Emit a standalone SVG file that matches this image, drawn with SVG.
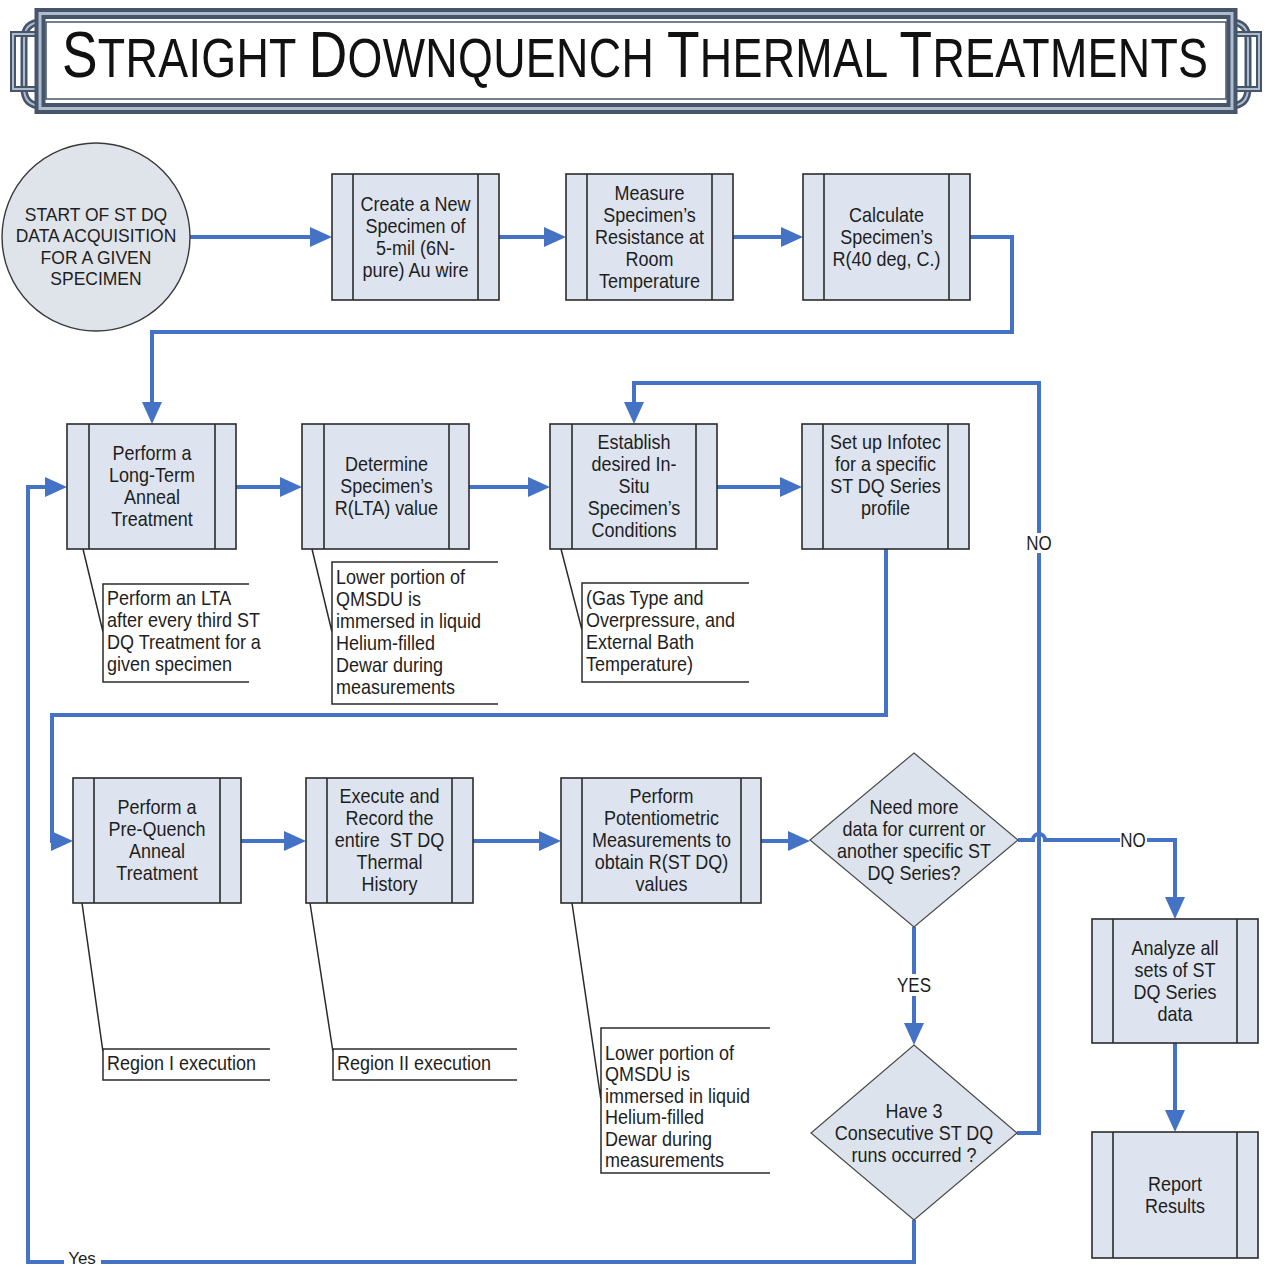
<svg xmlns="http://www.w3.org/2000/svg" width="1265" height="1268" viewBox="0 0 1265 1268">
<defs>
<style>
.box{fill:#dde4ef;stroke:#2b2b2b;stroke-width:1.6}
.div{fill:none;stroke:#2b2b2b;stroke-width:1.6}
.dia{fill:#dde3ec;stroke:#4a4a4a;stroke-width:1.2}
.start{fill:#dfe3ea;stroke:#3a3a3a;stroke-width:1.4}
.t,.a,.lb{font-family:"Liberation Sans",Arial,Helvetica,sans-serif;font-size:18px;fill:#1e1e1e;transform-box:fill-box;transform-origin:center;transform:scaleY(1.15)}
.t{text-anchor:middle}
.a{text-anchor:start}
.lb{text-anchor:middle;font-size:17px}
.sm{font-size:17.5px;transform:scaleY(1.1)}
.call{fill:none;stroke:#2b2b2b;stroke-width:1.5}
.conn{fill:none;stroke:#4472c4;stroke-width:4;stroke-linejoin:miter}
.arr{marker-end:url(#ah)}
.lbg{fill:#ffffff}
.fr-d{fill:none;stroke:#46556a}
.fr-l{fill:none;stroke:#aebdce}
</style>
<marker id="ah" markerUnits="userSpaceOnUse" markerWidth="22" markerHeight="20" viewBox="0 0 22 20" refX="16" refY="10" orient="auto">
<path d="M0,0 L22,10 L0,20 Z" fill="#4472c4"/>
</marker>
</defs>
<rect width="1265" height="1268" fill="#ffffff"/>

<!-- Title banner -->
<g id="title-banner">
<path class="fr-d" stroke-width="7" d="M42,22 Q24,22 24,40 V88 Q24,106 42,106 M1230,22 Q1248,22 1248,40 V88 Q1248,106 1230,106"/>
<path class="fr-l" stroke-width="2" d="M42,22 Q24,22 24,40 V88 Q24,106 42,106 M1230,22 Q1248,22 1248,40 V88 Q1248,106 1230,106"/>
<path class="fr-d" stroke-width="6" d="M42,34 H13 V89 H42 M1230,34 H1259 V89 H1230"/>
<path class="fr-l" stroke-width="2" d="M42,34 H13 V89 H42 M1230,34 H1259 V89 H1230"/>
<rect x="40" y="13.5" width="1192" height="95" fill="#ffffff" class="fr-d" stroke-width="11"/>
<rect x="40" y="13.5" width="1192" height="95" class="fr-l" stroke-width="3"/>
<rect x="46" y="22" width="1180" height="77" class="fr-d" stroke-width="1.5"/>
<text transform="translate(0,77) scale(1,1.23)" x="62" y="0" textLength="1146" lengthAdjust="spacing" font-family="'Liberation Sans',Arial,Helvetica,sans-serif" font-size="44.8" fill="#111111"><tspan font-size="53.3">S</tspan>TRAIGHT <tspan font-size="53.3">D</tspan>OWNQUENCH <tspan font-size="53.3">T</tspan>HERMAL <tspan font-size="53.3">T</tspan>REATMENTS</text>
</g>

<!-- Connectors -->
<g id="connectors">
<path class="conn arr" d="M190,237 H326"/>
<path class="conn arr" d="M499,237 H560"/>
<path class="conn arr" d="M733,237 H797"/>
<path class="conn arr" d="M970,237 H1012 V332 H152 V418"/>
<path class="conn arr" d="M236,487 H296"/>
<path class="conn arr" d="M469,487 H544"/>
<path class="conn arr" d="M717,487 H796"/>
<path class="conn arr" d="M886,549 V715 H52 V841 H67"/>
<path class="conn arr" d="M241,841 H300"/>
<path class="conn arr" d="M473,841 H555"/>
<path class="conn arr" d="M761,841 H804"/>
<path class="conn arr" d="M914,927 V1039"/>
<path class="conn arr" d="M1017,1133 H1039 V383 H634 V418"/>
<path class="conn arr" d="M1018,840 H1033 A6,6 0 0 1 1045,840 H1175 V913"/>
<path class="conn arr" d="M1175,1043 V1126"/>
<path class="conn arr" d="M914,1220 V1262 H28 V487 H61"/>
<rect class="lbg" x="1026" y="533" width="26" height="20"/>
<text class="lb" x="1039" y="549">NO</text>
<rect class="lbg" x="1120" y="831" width="27" height="18"/>
<text class="lb" x="1133" y="846">NO</text>
<rect class="lbg" x="895" y="974" width="38" height="22"/>
<text class="lb" x="914" y="991">YES</text>
<rect class="lbg" x="64" y="1251" width="37" height="17"/>
<text class="lb" x="82" y="1264" style="transform:none">Yes</text>
</g>

<!-- Start terminator -->
<g id="start">
<circle class="start" cx="96" cy="237" r="94"/>
<text class="t sm" x="96" y="220">START OF ST DQ</text>
<text class="t sm" x="96" y="241.5">DATA ACQUISITION</text>
<text class="t sm" x="96" y="263">FOR A GIVEN</text>
<text class="t sm" x="96" y="284.5">SPECIMEN</text>
</g>

<!-- Row 1 -->
<g id="create-specimen">
<rect class="box" x="332" y="174" width="167" height="126"/>
<path class="div" d="M353,174 V300 M478,174 V300"/>
<text class="t" x="415.5" y="210">Create a New</text>
<text class="t" x="415.5" y="232">Specimen of</text>
<text class="t" x="415.5" y="254">5-mil (6N-</text>
<text class="t" x="415.5" y="276">pure) Au wire</text>
</g>
<g id="measure-resistance">
<rect class="box" x="566" y="174" width="167" height="126"/>
<path class="div" d="M587,174 V300 M712,174 V300"/>
<text class="t" x="649.5" y="199">Measure</text>
<text class="t" x="649.5" y="221">Specimen’s</text>
<text class="t" x="649.5" y="243">Resistance at</text>
<text class="t" x="649.5" y="265">Room</text>
<text class="t" x="649.5" y="287">Temperature</text>
</g>
<g id="calculate-r40">
<rect class="box" x="803" y="174" width="167" height="126"/>
<path class="div" d="M824,174 V300 M949,174 V300"/>
<text class="t" x="886.5" y="221">Calculate</text>
<text class="t" x="886.5" y="243">Specimen’s</text>
<text class="t" x="886.5" y="265">R(40 deg, C.)</text>
</g>

<!-- Row 2 -->
<g id="long-term-anneal">
<rect class="box" x="67" y="424" width="169" height="125"/>
<path class="div" d="M89,424 V549 M215,424 V549"/>
<text class="t" x="152" y="459.5">Perform a</text>
<text class="t" x="152" y="481.5">Long-Term</text>
<text class="t" x="152" y="503.5">Anneal</text>
<text class="t" x="152" y="525.5">Treatment</text>
</g>
<g id="determine-rlta">
<rect class="box" x="302" y="424" width="167" height="125"/>
<path class="div" d="M324,424 V549 M449,424 V549"/>
<text class="t" x="386.5" y="470.5">Determine</text>
<text class="t" x="386.5" y="492.5">Specimen’s</text>
<text class="t" x="386.5" y="514.5">R(LTA) value</text>
</g>
<g id="establish-conditions">
<rect class="box" x="550" y="424" width="167" height="125"/>
<path class="div" d="M572,424 V549 M696,424 V549"/>
<text class="t" x="634" y="448.5">Establish</text>
<text class="t" x="634" y="470.5">desired In-</text>
<text class="t" x="634" y="492.5">Situ</text>
<text class="t" x="634" y="514.5">Specimen’s</text>
<text class="t" x="634" y="536.5">Conditions</text>
</g>
<g id="setup-infotec">
<rect class="box" x="802" y="424" width="167" height="125"/>
<path class="div" d="M823,424 V549 M948,424 V549"/>
<text class="t" x="885.5" y="448.5">Set up Infotec</text>
<text class="t" x="885.5" y="470.5">for a specific</text>
<text class="t" x="885.5" y="492.5">ST DQ Series</text>
<text class="t" x="885.5" y="514.5">profile</text>
</g>

<!-- Row 3 -->
<g id="pre-quench-anneal">
<rect class="box" x="73" y="778" width="168" height="125"/>
<path class="div" d="M94,778 V903 M220,778 V903"/>
<text class="t" x="157" y="813.5">Perform a</text>
<text class="t" x="157" y="835.5">Pre-Quench</text>
<text class="t" x="157" y="857.5">Anneal</text>
<text class="t" x="157" y="879.5">Treatment</text>
</g>
<g id="execute-record">
<rect class="box" x="306" y="778" width="167" height="125"/>
<path class="div" d="M327,778 V903 M452,778 V903"/>
<text class="t" x="389.5" y="802.5">Execute and</text>
<text class="t" x="389.5" y="824.5">Record the</text>
<text class="t" x="389.5" y="846.5">entire&#160; ST DQ</text>
<text class="t" x="389.5" y="868.5">Thermal</text>
<text class="t" x="389.5" y="890.5">History</text>
</g>
<g id="potentiometric">
<rect class="box" x="561" y="778" width="200" height="125"/>
<path class="div" d="M582,778 V903 M741,778 V903"/>
<text class="t" x="661.5" y="802.5">Perform</text>
<text class="t" x="661.5" y="824.5">Potentiometric</text>
<text class="t" x="661.5" y="846.5">Measurements to</text>
<text class="t" x="661.5" y="868.5">obtain R(ST DQ)</text>
<text class="t" x="661.5" y="890.5">values</text>
</g>

<!-- Decisions -->
<g id="need-more-data">
<polygon class="dia" points="914,753 1018,840 914,927 810,840"/>
<text class="t" x="914" y="813">Need more</text>
<text class="t" x="914" y="835">data for current or</text>
<text class="t" x="914" y="857">another specific ST</text>
<text class="t" x="914" y="879">DQ Series?</text>
</g>
<g id="three-runs">
<polygon class="dia" points="914,1045 1017,1133 914,1220 811,1133"/>
<text class="t" x="914" y="1117">Have 3</text>
<text class="t" x="914" y="1139">Consecutive ST DQ</text>
<text class="t" x="914" y="1161">runs occurred ?</text>
</g>

<!-- Closing steps -->
<g id="analyze">
<rect class="box" x="1092" y="919" width="166" height="124"/>
<path class="div" d="M1113,919 V1043 M1237,919 V1043"/>
<text class="t" x="1175" y="954">Analyze all</text>
<text class="t" x="1175" y="976">sets of ST</text>
<text class="t" x="1175" y="998">DQ Series</text>
<text class="t" x="1175" y="1020">data</text>
</g>
<g id="report">
<rect class="box" x="1092" y="1132" width="166" height="126"/>
<path class="div" d="M1113,1132 V1258 M1237,1132 V1258"/>
<text class="t" x="1175" y="1190">Report</text>
<text class="t" x="1175" y="1212">Results</text>
</g>

<!-- Annotations -->
<g id="note-lta">
<path class="call" d="M83,549 L103,632 M249,584 H103 V682 H249"/>
<text class="a" x="107" y="604">Perform an LTA</text>
<text class="a" x="107" y="626">after every third ST</text>
<text class="a" x="107" y="648">DQ Treatment for a</text>
<text class="a" x="107" y="670">given specimen</text>
</g>
<g id="note-qmsdu-1">
<path class="call" d="M312,549 L332,632 M498,562 H332 V704 H498"/>
<text class="a" x="336" y="583">Lower portion of</text>
<text class="a" x="336" y="605">QMSDU is</text>
<text class="a" x="336" y="627">immersed in liquid</text>
<text class="a" x="336" y="649">Helium-filled</text>
<text class="a" x="336" y="671">Dewar during</text>
<text class="a" x="336" y="693">measurements</text>
</g>
<g id="note-gas">
<path class="call" d="M561,549 L582,630 M749,583 H582 V682 H749"/>
<text class="a" x="586" y="604">(Gas Type and</text>
<text class="a" x="586" y="626">Overpressure, and</text>
<text class="a" x="586" y="648">External Bath</text>
<text class="a" x="586" y="670">Temperature)</text>
</g>
<g id="note-region-1">
<path class="call" d="M82,903 L103,1052 M270,1049 H103 V1080 H270"/>
<text class="a" x="107" y="1069">Region I execution</text>
</g>
<g id="note-region-2">
<path class="call" d="M310,903 L333,1052 M517,1049 H333 V1080 H517"/>
<text class="a" x="337" y="1069">Region II execution</text>
</g>
<g id="note-qmsdu-2">
<path class="call" d="M572,903 L601,1100 M770,1028 H601 V1173 H770"/>
<text class="a" x="605" y="1059">Lower portion of</text>
<text class="a" x="605" y="1080.5">QMSDU is</text>
<text class="a" x="605" y="1102">immersed in liquid</text>
<text class="a" x="605" y="1123.5">Helium-filled</text>
<text class="a" x="605" y="1145">Dewar during</text>
<text class="a" x="605" y="1166.5">measurements</text>
</g>
</svg>
